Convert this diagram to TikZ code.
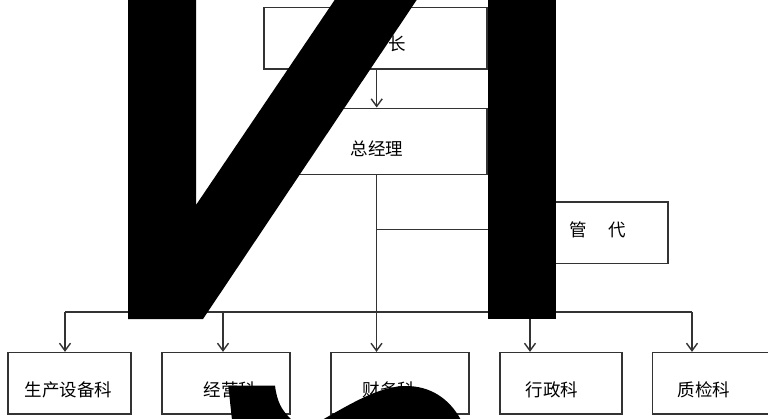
\documentclass[tikz,border=0pt]{standalone}
\usepackage{fontspec}
\newfontfamily\cjk{Noto Sans CJK SC}
\usetikzlibrary{arrows.meta}
\tikzset{
  box/.style={draw=black!80, line width=1.6pt, rectangle, inner sep=0pt},
  lbl/.style={font=\cjk\fontsize{17.5}{20}\selectfont, text=black, inner sep=0pt},
  conn/.style={draw=black!80, line width=1.5pt},
  arr/.style={conn, -{Straight Barb[length=7.5pt,width=11pt,line width=1.4pt]}},
  blot/.style={fill=black, draw=none}
}
\begin{document}
\begin{tikzpicture}[x=1pt,y=-1pt]
\clip (0,0) rectangle (768,418);
\fill[white] (0,0) rectangle (768,418);
% boxes
\node[box, minimum width=223pt, minimum height=61.7pt] (top) at (375.5,38.2) {};
\node[box, minimum width=223pt, minimum height=66pt] (gm) at (375.5,141.3) {};
\node[box, minimum width=141pt, minimum height=61.6pt] (gd) at (597.5,232.5) {};
\node[box, minimum width=123pt, minimum height=61.3pt] (b1) at (69.5,383.3) {};
\node[box, minimum width=128pt, minimum height=61.3pt] (b2) at (226,383.3) {};
\node[box, minimum width=138pt, minimum height=61.3pt] (b3) at (400,383.3) {};
\node[box, minimum width=122pt, minimum height=61.3pt] (b4) at (561,383.3) {};
\node[box, minimum width=125pt, minimum height=61.3pt] (b5) at (715,383.3) {};
% labels
\node[lbl] (ttop) at (397,44) {长};
\node[lbl] (tgm) at (377,149) {总经理};
\node[lbl] (tgd) at (597.5,230) {管\hspace{21pt}代};
\node[lbl] (t1) at (68.6,389.5) {生产设备科};
\node[lbl] (t2) at (230,389.5) {经营科};
\node[lbl] (t3) at (389,389.5) {财务科};
\node[lbl] (t4) at (552,389.5) {行政科};
\node[lbl] (t5) at (704,389.5) {质检科};
% connectors
\coordinate (a0) at (376.7,69);
\draw[arr] (a0 |- top.south) -- (a0 |- gm.north);
\coordinate (trunk) at (376.5,312);
\coordinate (br) at (376.5,229.3);
\draw[conn] (trunk |- gm.south) -- (trunk);
\draw[conn] (br) -- (br -| gd.west);
\coordinate (bus1) at (65,312);
\coordinate (bus2) at (223,312);
\coordinate (bus4) at (530,312);
\coordinate (bus5) at (692,312);
\draw[conn] (bus1) -- (bus5);
\draw[arr] (bus1) -- (bus1 |- b1.north);
\draw[arr] (bus2) -- (bus2 |- b2.north);
\draw[arr] (trunk) -- (trunk |- b3.north);
\draw[arr] (bus4) -- (bus4 |- b4.north);
\draw[arr] (bus5) -- (bus5 |- b5.north);
% black overlay shapes
\fill[blot] (128,-2) -- (196,-2) -- (196,205) -- (336,-2) -- (418,-2) -- (203,319) -- (128,319) -- cycle;
\fill[blot] (488,-2) rectangle (556,319);
\fill[blot] (228.3,385.7) -- (275,385.7) .. controls (277,401) and (281,410) .. (292,420) -- (232,420) -- cycle;
\fill[blot] (322,420) .. controls (352,403) and (380,386) .. (406,386) .. controls (430,386) and (449,398) .. (461,420) -- cycle;
\end{tikzpicture}
\end{document}
